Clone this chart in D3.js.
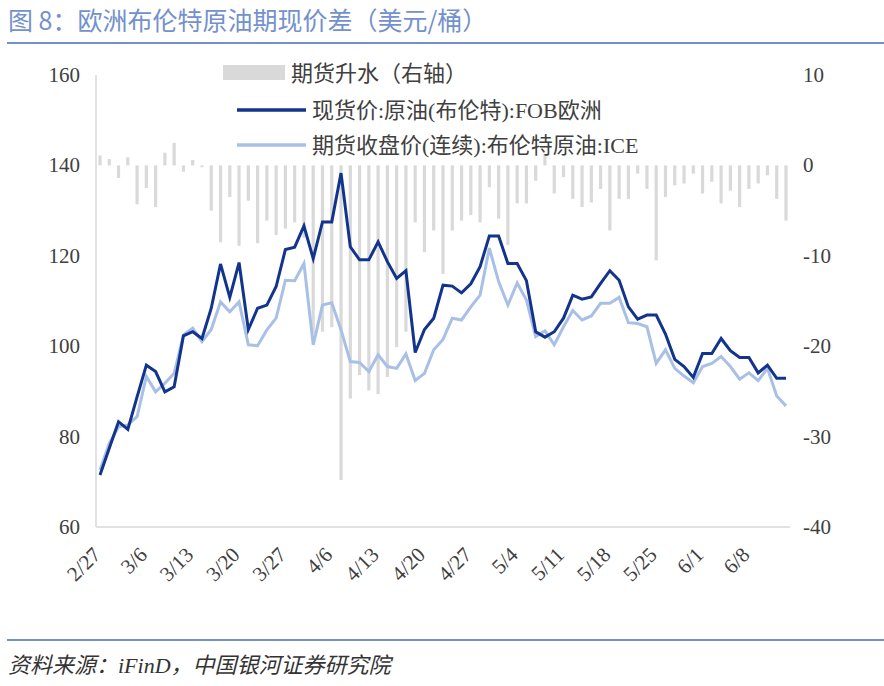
<!DOCTYPE html>
<html>
<head>
<meta charset="utf-8">
<style>
body { margin: 0; background: #fff; }
svg text { font-family: "Liberation Serif", "DejaVu Serif", "Noto Sans CJK SC", serif; }
</style>
</head>
<body>
<svg id="chart" width="884" height="686"></svg>
<script src="https://d3js.org/d3.v7.min.js"></script>
<script>
// tick labels, one per 5 trading days
var tickLabels = ["2/27","3/6","3/13","3/20","3/27","4/6","4/13","4/20","4/27","5/4","5/11","5/18","5/25","6/1","6/8"];

// 现货价:原油(布伦特):FOB欧洲
var spot = [71.5,77.4,83.3,81.6,88.8,95.8,94.4,89.9,91.0,102.3,
  103.2,101.7,108.4,118.2,110.8,118.5,103.7,108.4,109.1,113.2,
  121.4,121.9,126.6,119.4,127.5,127.5,138.3,122.0,119.1,119.1,
  123.1,118.7,115.0,116.7,98.6,103.7,106.2,113.5,113.3,111.8,
  113.8,117.6,124.4,124.4,118.3,118.3,114.5,103.2,102.0,103.2,
  106.2,111.3,110.4,110.9,113.9,116.7,114.6,108.7,106.0,106.9,
  106.9,102.7,97.1,95.5,93.1,98.4,98.4,101.7,99.0,97.5,
  97.5,94.1,95.8,92.9,92.9];

// 期货收盘价(连续):布伦特原油:ICE
var futures = [72.6,78.5,82.2,82.6,84.4,93.3,89.9,91.8,94.0,102.5,
  104.0,101.0,103.7,109.8,107.6,109.8,100.3,100.1,103.6,106.2,
  114.6,114.5,118.3,100.3,109.1,109.6,103.6,96.6,96.4,94.4,
  98.1,95.5,95.1,98.3,92.4,94.0,99.2,101.5,106.2,105.8,
  108.7,111.3,121.7,114.3,109.1,114.0,110.2,102.1,103.4,100.3,
  104.3,107.9,105.8,106.7,109.5,109.5,110.8,105.2,105.0,104.3,
  96.2,99.2,95.1,93.4,91.9,95.5,96.2,97.7,95.5,92.7,
  94.1,92.4,95.1,89.0,86.8];

// 期货升水（右轴）
var premium = [1.1,0.7,-1.4,0.9,-4.3,-2.5,-4.6,1.4,2.5,-0.7,
  0.6,-0.2,-5.0,-8.5,-3.5,-8.9,-3.9,-8.6,-6.1,-7.7,
  -7.0,-6.3,-8.0,-18.6,-18.4,-17.9,-34.8,-25.8,-23.2,-24.9,
  -25.3,-23.4,-20.1,-18.4,-6.3,-9.6,-7.2,-12.0,-7.2,-6.1,
  -5.5,-6.3,-2.4,-5.9,-8.8,-4.2,-4.2,-1.7,1.3,-3.1,
  -1.3,-3.7,-4.6,-4.1,-2.6,-7.2,-3.7,-3.7,-0.9,-2.6,
  -10.5,-3.5,-2.2,-2.0,-0.9,-3.1,-1.8,-4.2,-2.8,-4.6,
  -2.6,-2.0,-1.1,-3.7,-6.1];

var leftTicks = [60,80,100,120,140,160];
var rightTicks = [-40,-30,-20,-10,0,10];

var svg = d3.select("#chart");
var plotL = 96, plotR = 790, plotT = 75, plotB = 527;
var n = spot.length;

var x = d3.scalePoint().domain(d3.range(n)).range([100, 786]);
var yL = d3.scaleLinear().domain([60,160]).range([plotB, plotT]);
var yR = d3.scaleLinear().domain([-40,10]).range([plotB, plotT]);

// title
svg.append("text").attr("x", 8).attr("y", 30)
  .style("font-family", "'Noto Sans CJK SC', sans-serif")
  .style("font-size", "25px").attr("fill", "#7391cc")
  .text("图 8：欧洲布伦特原油期现价差（美元/桶）");
svg.append("line").attr("x1", 7).attr("x2", 884).attr("y1", 43).attr("y2", 43)
  .attr("stroke", "#7391cc").attr("stroke-width", 2);

// bars
svg.append("g").selectAll("rect").data(premium).enter().append("rect")
  .attr("x", function(d, i){ return x(i) - 1.6; })
  .attr("width", 3.2)
  .attr("y", function(d){ return yR(Math.max(0, d)); })
  .attr("height", function(d){ return Math.abs(yR(d) - yR(0)); })
  .attr("fill", "#d9d9d9");

// axes lines
svg.append("line").attr("x1", plotL).attr("x2", plotL).attr("y1", plotT).attr("y2", plotB)
  .attr("stroke", "#d9d9d9").attr("stroke-width", 1.5);
svg.append("line").attr("x1", plotL).attr("x2", plotR).attr("y1", plotB).attr("y2", plotB)
  .attr("stroke", "#d9d9d9").attr("stroke-width", 1.5);

var line = function(yScale){
  return d3.line().x(function(d, i){ return x(i); }).y(function(d){ return yScale(d); });
};
svg.append("path").datum(futures).attr("d", line(yL))
  .attr("fill", "none").attr("stroke", "#a9c0e6").attr("stroke-width", 3);
svg.append("path").datum(spot).attr("d", line(yL))
  .attr("fill", "none").attr("stroke", "#12348c").attr("stroke-width", 3);

// left ticks
svg.append("g").selectAll("text").data(leftTicks).enter().append("text")
  .attr("x", 80).attr("y", function(d){ return yL(d) + 7; })
  .attr("text-anchor", "end").attr("fill", "#404040").style("font-size", "21px")
  .text(function(d){ return d; });
// right ticks
svg.append("g").selectAll("text").data(rightTicks).enter().append("text")
  .attr("x", 803).attr("y", function(d){ return yR(d) + 7; })
  .attr("fill", "#404040").style("font-size", "21px")
  .text(function(d){ return d; });

// x labels
svg.append("g").selectAll("text").data(tickLabels).enter().append("text")
  .attr("transform", function(d, i){ return "translate(" + (x(i * 5) + 2) + ",556) rotate(-45)"; })
  .attr("text-anchor", "end").attr("fill", "#404040").style("font-size", "21px")
  .text(function(d){ return d; });

// legend
var lg = svg.append("g").style("font-size", "22px");
lg.append("rect").attr("x", 223).attr("y", 65).attr("width", 62).attr("height", 15).attr("fill", "#d9d9d9");
lg.append("text").attr("x", 291).attr("y", 81).attr("fill", "#404040").text("期货升水（右轴）");
lg.append("line").attr("x1", 237).attr("x2", 306).attr("y1", 110).attr("y2", 110)
  .attr("stroke", "#12348c").attr("stroke-width", 3.5);
lg.append("text").attr("x", 312).attr("y", 118).attr("fill", "#404040").text("现货价:原油(布伦特):FOB欧洲");
lg.append("line").attr("x1", 237).attr("x2", 306).attr("y1", 145).attr("y2", 145)
  .attr("stroke", "#a9c0e6").attr("stroke-width", 3.5);
lg.append("text").attr("x", 312).attr("y", 153).attr("fill", "#404040").text("期货收盘价(连续):布伦特原油:ICE");

// footer
svg.append("line").attr("x1", 7).attr("x2", 884).attr("y1", 640).attr("y2", 640)
  .attr("stroke", "#7391cc").attr("stroke-width", 2);
svg.append("text").attr("x", 8).attr("y", 673).attr("fill", "#333")
  .style("font-size", "22px").style("font-style", "italic")
  .text("资料来源：iFinD，中国银河证券研究院");
</script>
</body>
</html>
